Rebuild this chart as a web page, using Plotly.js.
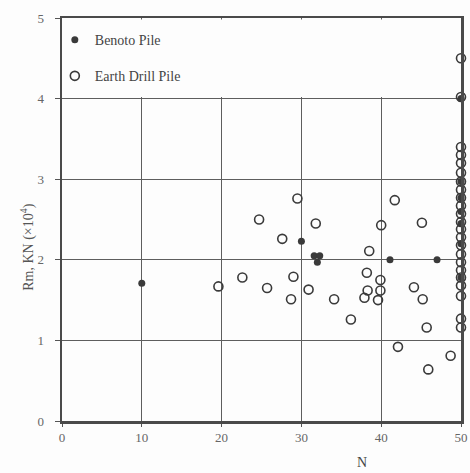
<!DOCTYPE html>
<html>
<head>
<meta charset="utf-8">
<script src="https://cdn.plot.ly/plotly-3.0.1.min.js"></script>
<style>html,body{margin:0;padding:0;background:#fff;}#chart{width:470px;height:473px;}</style>
</head>
<body>
<div id="chart"></div>
<script>
// Benoto Pile (filled)
const benotoN = [10, 30, 31.6, 32.3, 32.0, 41.1, 47.0, 50, 50, 50, 50, 50, 50, 50];
const benotoR = [1.71, 2.23, 2.05, 2.05, 1.97, 2.00, 2.00, 4.00, 2.97, 2.77, 2.60, 2.45, 2.20, 1.78];

// Earth Drill Pile (open)
const drillN = [29.5, 24.7, 31.8, 27.6, 22.6, 19.6, 29.0, 25.7, 30.9, 28.7,
  41.7, 40.0, 45.1, 38.5, 38.2, 39.9, 38.3, 39.9, 37.9, 39.6, 34.1, 44.1, 45.2,
  36.2, 45.7, 42.1, 48.7, 45.9,
  50, 50, 50, 50, 50, 50, 50, 50, 50, 50, 50, 50, 50, 50, 50, 50, 50, 50, 50, 50, 50, 50, 50];
const drillR = [2.76, 2.50, 2.45, 2.26, 1.78, 1.67, 1.79, 1.65, 1.63, 1.51,
  2.74, 2.43, 2.46, 2.11, 1.84, 1.75, 1.62, 1.62, 1.53, 1.50, 1.51, 1.66, 1.51,
  1.26, 1.16, 0.92, 0.81, 0.64,
  4.50, 4.02, 3.40, 3.30, 3.20, 3.08, 2.97, 2.87, 2.77, 2.67, 2.57, 2.47, 2.38, 2.28, 2.18, 2.07, 1.97, 1.87, 1.78, 1.68, 1.55, 1.27, 1.16];

const xTicks = [0, 10, 20, 30, 40, 50];
const yTicks = [0, 1, 2, 3, 4, 5];

const serif = "Liberation Serif, DejaVu Serif, serif";
const ink = "#3a3a3a";

const traces = [
  {
    x: drillN, y: drillR, type: "scatter", mode: "markers", name: "Earth Drill Pile",
    legendgroup: "b", legendrank: 2, cliponaxis: false,
    marker: {symbol: "circle-open", size: 9, color: ink, line: {width: 1.6, color: ink}}
  },
  {
    x: benotoN, y: benotoR, type: "scatter", mode: "markers", name: "Benoto Pile",
    legendgroup: "a", legendrank: 1, cliponaxis: false,
    marker: {symbol: "circle", size: 7, color: ink}
  }
];

const layout = {
  width: 470, height: 473,
  margin: {l: 62, r: 9, t: 18, b: 52},
  paper_bgcolor: "#fdfdfd", plot_bgcolor: "#fdfdfd",
  showlegend: true,
  legend: {
    x: -0.018, y: 0.985, xanchor: "left", yanchor: "top",
    bgcolor: "rgba(0,0,0,0)", borderwidth: 0,
    font: {family: serif, size: 14, color: "#444"},
    traceorder: "grouped", tracegroupgap: 15, itemwidth: 30
  },
  xaxis: {
    range: [0, 50], tickvals: xTicks, ticktext: xTicks.map(String),
    showgrid: true, gridcolor: "#5e5e5e", gridwidth: 1,
    zeroline: false, showline: true, linecolor: "#4a4a4a", linewidth: 2.5, mirror: true,
    ticks: "outside", ticklen: 3, tickcolor: "#555",
    tickfont: {family: serif, size: 13, color: "#666"}
  },
  yaxis: {
    range: [0, 5], tickvals: yTicks, ticktext: yTicks.map(String),
    showgrid: true, gridcolor: "#5e5e5e", gridwidth: 1,
    zeroline: false, showline: true, linecolor: "#4a4a4a", linewidth: 2.5, mirror: true,
    ticks: "outside", ticklen: 5, tickcolor: "#555", ticklabelstandoff: 8,
    tickfont: {family: serif, size: 13, color: "#666"}
  },
  shapes: [
    {type: "rect", xref: "x", yref: "y", x0: 0.1, x1: 49.9, y0: 4.02, y1: 4.98,
     fillcolor: "#fdfdfd", line: {width: 0}, layer: "between"}
  ],
  annotations: [
    {text: "N", xref: "paper", yref: "paper", x: 0.77, y: -0.104, yanchor: "middle",
     showarrow: false, font: {family: serif, size: 14, color: "#444"}},
    {text: "Rm, KN (×10<sup>4</sup>)", xref: "paper", yref: "paper", x: -0.085, y: 0.43,
     xanchor: "center", yanchor: "middle", textangle: -90,
     showarrow: false, font: {family: serif, size: 14, color: "#555"}}
  ]
};

Plotly.newPlot("chart", traces, layout, {displayModeBar: false, staticPlot: true});
</script>
</body>
</html>
